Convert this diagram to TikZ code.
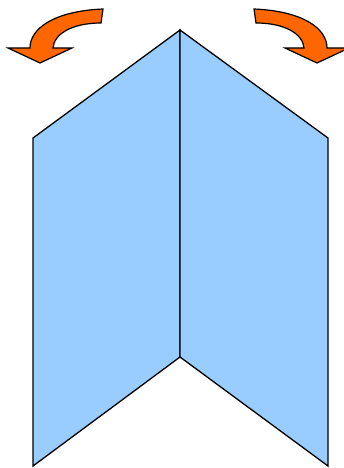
\documentclass[tikz,border=0pt]{standalone}
\usetikzlibrary{}
\definecolor{panelblue}{HTML}{99CCFF}
\definecolor{arroworange}{HTML}{FF6600}
\tikzset{
  panel/.style={draw=black, fill=panelblue, line width=1.3pt, line join=miter},
  curvearrow/.style={draw=black, fill=arroworange, line width=1.2pt, line join=miter}
}
\begin{document}
\begin{tikzpicture}[x=1pt,y=-1pt]
\useasboundingbox (0,0) rectangle (344,468);
% panels
\coordinate (top) at (180,30);
\coordinate (bot) at (180,357);
\coordinate (ltop) at (33,138);
\coordinate (lbot) at (33,466);
\coordinate (rtop) at (328,138);
\coordinate (rbot) at (328,466);
\path[panel] (ltop) -- (top) -- (bot) -- (lbot) -- cycle;
\path[panel] (top) -- (rtop) -- (rbot) -- (bot) -- cycle;
% left curved arrow
\path[curvearrow] (103,9) .. controls (55,11) and (30,28) .. (30,48) -- (8,48) -- (40,63) -- (72,48) -- (53,48) .. controls (54,34) and (72,23) .. (101,23) -- cycle;
% right curved arrow (mirror)
\begin{scope}[xshift=357pt, xscale=-1]
\path[curvearrow] (103,9) .. controls (55,11) and (30,28) .. (30,48) -- (8,48) -- (40,63) -- (72,48) -- (53,48) .. controls (54,34) and (72,23) .. (101,23) -- cycle;
\end{scope}
\end{tikzpicture}
\end{document}
